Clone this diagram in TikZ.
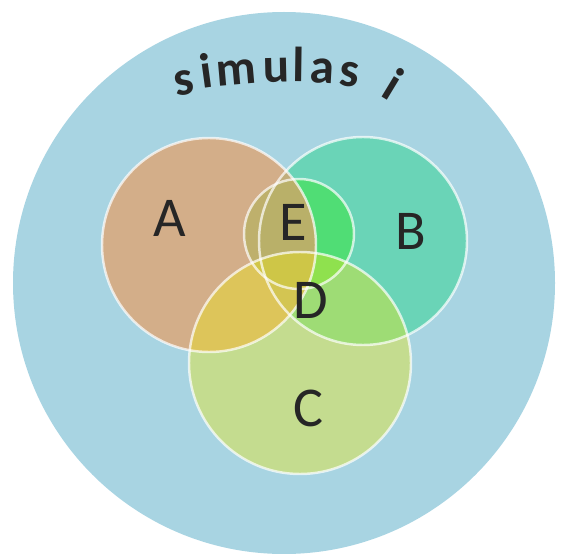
\documentclass[tikz,border=0pt]{standalone}
\usepackage{fontspec}
\setmainfont{Carlito}
\usetikzlibrary{calc}

\definecolor{outerblue}{RGB}{168,212,226}
\definecolor{setA}{RGB}{230,158,100}
\definecolor{setB}{RGB}{80,212,166}
\definecolor{setC}{RGB}{238,232,20}
\definecolor{setE}{RGB}{70,225,90}

\tikzset{
    vennfill/.style={fill opacity=0.7},
    vennline/.style={draw=white, draw opacity=0.7, line width=1.4pt},
    setlabel/.style={text=black!85, font=\fontsize{32}{36}\selectfont},
    arcletter/.style={text=black!85, anchor=base, inner sep=0pt, font=\bfseries\fontsize{28}{32}\selectfont}
}

\begin{document}
\begin{tikzpicture}[x=0.02cm, y=-0.02cm]
    \useasboundingbox (0,0) rectangle (561,554);

    % 定义圆心
    \coordinate (Outer) at (284,283);
    \coordinate (cA) at (209,245);
    \coordinate (cB) at (363,241);
    \coordinate (cC) at (300,363);
    \coordinate (cE) at (299,234);
    \coordinate (ArcCentre) at (290,682);

    % 外圆
    \fill[outerblue] (Outer) circle (271);

    % 各集合（先填充）
    \fill[vennfill, setB] (cB) circle (104);
    \fill[vennfill, setE] (cE) circle (55);
    \fill[vennfill, setA] (cA) circle (107);
    \fill[fill opacity=0.4, setC] (cC) circle (111);

    % 边线
    \draw[vennline] (cA) circle (107);
    \draw[vennline] (cB) circle (104);
    \draw[vennline] (cC) circle (111);
    \draw[vennline] (cE) circle (55);

    % 标签
    \node[setlabel] (labA) at (170,218) {A};
    \node[setlabel] (labE) at (293,222) {E};
    \node[setlabel] (labB) at (411,231) {B};
    \node[setlabel] (labD) at (311,300) {D};
    \node[setlabel] (labC) at (308,408) {C};

    % 弧形标题
    \foreach \ch/\ang/\tilt/\rad [count=\i] in {s/100.0/0/596, i/97.8/0/600, m/95.0/0/600, u/91.3/0/600, l/89.2/0/600, a/87.0/0/600, s/84.4/0/598, i/80.8/-22/591}
        \node[arcletter, rotate=\ang-90+\tilt] (title\i) at ($(ArcCentre)+(-\ang:\rad)$) {\ch};

\end{tikzpicture}
\end{document}
